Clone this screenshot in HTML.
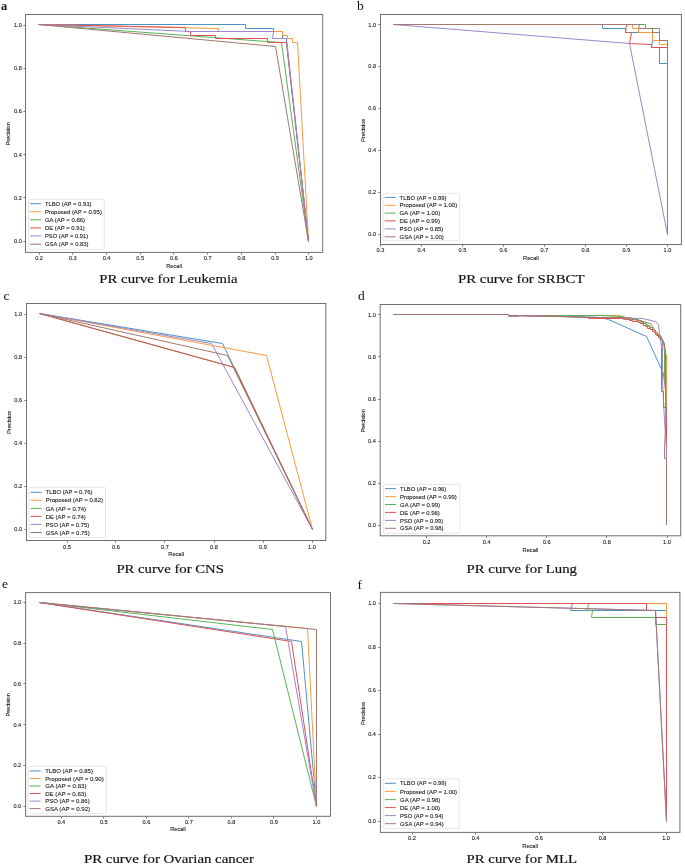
<!DOCTYPE html>
<html><head><meta charset="utf-8"><title>PR curves</title>
<style>
html,body{margin:0;padding:0;background:#fff;}
body{width:685px;height:864px;overflow:hidden;font-family:"Liberation Sans",sans-serif;}
svg{display:block;will-change:transform;filter:blur(0.3px);}
</style></head><body>
<svg width="685" height="864" viewBox="0 0 685 864">
<g>
<clipPath id="cpa"><rect x="25.5" y="14.5" width="297.2" height="237.9"/></clipPath>
<g clip-path="url(#cpa)" fill="none" stroke-width="1.00" stroke-linejoin="miter" stroke-linecap="butt">
<polyline stroke="#4c92c3" points="38.50,24.50 245.50,24.50 245.50,28.50 273.50,28.50 273.50,31.50 282.50,31.50 282.50,38.50 286.50,38.50 286.50,42.50 308.50,241.50"/>
<polyline stroke="#ff993e" points="38.50,24.50 218.50,28.50 218.50,31.50 282.50,31.50 282.50,35.50 287.50,35.50 287.50,38.50 292.50,38.50 292.50,42.50 297.50,42.50 308.50,241.50"/>
<polyline stroke="#56b356" points="38.50,24.50 266.50,41.50 281.50,42.50 308.50,241.50"/>
<polyline stroke="#de5253" points="38.50,24.50 185.50,27.50 185.50,31.50 190.50,31.50 190.50,35.50 215.50,35.50 215.50,38.50 267.50,38.50 267.50,42.50 286.50,42.50 308.50,241.50"/>
<polyline stroke="#9d86cc" points="38.50,24.50 190.50,31.50 273.50,31.50 272.50,38.50 286.50,38.50 308.50,241.50"/>
<polyline stroke="#a3786f" points="38.50,24.50 275.50,46.50 308.50,241.50"/>
</g>
<rect x="25.5" y="14.5" width="297.2" height="237.9" fill="none" stroke="#707070" stroke-width="1"/>
<path d="M39.50 252.40v2.2M72.50 252.40v2.2M106.50 252.40v2.2M140.50 252.40v2.2M173.50 252.40v2.2M207.50 252.40v2.2M241.50 252.40v2.2M275.50 252.40v2.2M308.50 252.40v2.2M25.50 241.50h-2.2M25.50 197.50h-2.2M25.50 154.50h-2.2M25.50 111.50h-2.2M25.50 68.50h-2.2M25.50 25.50h-2.2" stroke="#707070" stroke-width="0.9" fill="none"/>
<g font-family="Liberation Sans, sans-serif" font-size="6.20" fill="#181818" stroke="#181818" stroke-width="0.1">
<text x="39.10" y="259.60" text-anchor="middle" textLength="7.79" lengthAdjust="spacingAndGlyphs">0.2</text>
<text x="72.81" y="259.60" text-anchor="middle" textLength="7.79" lengthAdjust="spacingAndGlyphs">0.3</text>
<text x="106.53" y="259.60" text-anchor="middle" textLength="7.79" lengthAdjust="spacingAndGlyphs">0.4</text>
<text x="140.24" y="259.60" text-anchor="middle" textLength="7.79" lengthAdjust="spacingAndGlyphs">0.5</text>
<text x="173.95" y="259.60" text-anchor="middle" textLength="7.79" lengthAdjust="spacingAndGlyphs">0.6</text>
<text x="207.66" y="259.60" text-anchor="middle" textLength="7.79" lengthAdjust="spacingAndGlyphs">0.7</text>
<text x="241.38" y="259.60" text-anchor="middle" textLength="7.79" lengthAdjust="spacingAndGlyphs">0.8</text>
<text x="275.09" y="259.60" text-anchor="middle" textLength="7.79" lengthAdjust="spacingAndGlyphs">0.9</text>
<text x="308.80" y="259.60" text-anchor="middle" textLength="7.79" lengthAdjust="spacingAndGlyphs">1.0</text>
<text x="14.01" y="243.00" textLength="7.79" lengthAdjust="spacingAndGlyphs">0.0</text>
<text x="14.01" y="199.78" textLength="7.79" lengthAdjust="spacingAndGlyphs">0.2</text>
<text x="14.01" y="156.56" textLength="7.79" lengthAdjust="spacingAndGlyphs">0.4</text>
<text x="14.01" y="113.34" textLength="7.79" lengthAdjust="spacingAndGlyphs">0.6</text>
<text x="14.01" y="70.12" textLength="7.79" lengthAdjust="spacingAndGlyphs">0.8</text>
<text x="14.01" y="26.90" textLength="7.79" lengthAdjust="spacingAndGlyphs">1.0</text>
<text x="166.27" y="267.80" textLength="15.66" lengthAdjust="spacingAndGlyphs">Recall</text>
<text transform="translate(10.40 133.80) rotate(-90)" x="-11.71" y="0" textLength="23.42" lengthAdjust="spacingAndGlyphs">Precision</text>
</g>
<rect x="28.50" y="199.30" width="75.70" height="50.00" rx="1.2" fill="#fff" fill-opacity="0.85" stroke="#d5d5d5" stroke-width="0.6"/>
<g font-family="Liberation Sans, sans-serif" font-size="6.20" fill="#181818" stroke="#181818" stroke-width="0.1">
<line x1="30.10" y1="203.70" x2="41.10" y2="203.70" stroke="#4c92c3" stroke-width="1.00"/>
<text x="44.90" y="205.80" textLength="46.44" lengthAdjust="spacingAndGlyphs">TLBO (AP = 0.93)</text>
<line x1="30.10" y1="211.70" x2="41.10" y2="211.70" stroke="#ff993e" stroke-width="1.00"/>
<text x="44.90" y="213.80" textLength="57.00" lengthAdjust="spacingAndGlyphs">Proposed (AP = 0.95)</text>
<line x1="30.10" y1="219.80" x2="41.10" y2="219.80" stroke="#56b356" stroke-width="1.00"/>
<text x="44.90" y="221.90" textLength="40.23" lengthAdjust="spacingAndGlyphs">GA (AP = 0.86)</text>
<line x1="30.10" y1="227.90" x2="41.10" y2="227.90" stroke="#de5253" stroke-width="1.00"/>
<text x="44.90" y="230.00" textLength="39.92" lengthAdjust="spacingAndGlyphs">DE (AP = 0.91)</text>
<line x1="30.10" y1="235.90" x2="41.10" y2="235.90" stroke="#9d86cc" stroke-width="1.00"/>
<text x="44.90" y="238.00" textLength="43.25" lengthAdjust="spacingAndGlyphs">PSO (AP = 0.91)</text>
<line x1="30.10" y1="244.20" x2="41.10" y2="244.20" stroke="#a3786f" stroke-width="1.00"/>
<text x="44.90" y="246.30" textLength="43.71" lengthAdjust="spacingAndGlyphs">GSA (AP = 0.83)</text>
</g>
<text x="99.30" y="282.80" font-family="Liberation Serif, serif" font-size="13.3" fill="#111" stroke="#111" stroke-width="0.18" textLength="138.30" lengthAdjust="spacingAndGlyphs">PR curve for Leukemia</text>
<text x="0.90" y="9.90" font-family="Liberation Serif, serif" font-size="12.5" fill="#111" font-weight="bold">a</text>
</g>
<g>
<clipPath id="cpb"><rect x="380.5" y="14.5" width="300.9" height="230.0"/></clipPath>
<g clip-path="url(#cpb)" fill="none" stroke-width="1.00" stroke-linejoin="miter" stroke-linecap="butt">
<polyline stroke="#4c92c3" points="393.50,24.50 602.50,24.50 602.50,28.50 625.50,28.50 625.50,32.50 652.50,32.50 652.50,40.50 651.50,47.50 659.50,47.50 659.50,63.50 667.50,63.50 667.50,234.50"/>
<polyline stroke="#ff993e" points="393.50,24.50 632.50,24.50 632.50,28.50 638.50,28.50 638.50,32.50 652.50,32.50 652.50,40.50 659.50,40.50 659.50,44.50 667.50,44.50 667.50,234.50"/>
<polyline stroke="#56b356" points="393.50,24.50 645.50,24.50 645.50,28.50 659.50,28.50 659.50,32.50 659.50,40.50 667.50,40.50 667.50,234.50"/>
<polyline stroke="#de5253" points="393.50,24.50 626.50,24.50 625.50,32.50 631.50,32.50 629.50,43.50 651.50,44.50 651.50,47.50 667.50,47.50 667.50,234.50"/>
<polyline stroke="#9d86cc" points="393.50,24.50 629.50,43.50 667.50,234.50"/>
<polyline stroke="#a3786f" points="393.50,24.50 639.50,24.50 638.50,28.50 652.50,28.50 652.50,32.50 659.50,32.50 659.50,40.50 667.50,40.50 667.50,234.50"/>
</g>
<rect x="380.5" y="14.5" width="300.9" height="230.0" fill="none" stroke="#707070" stroke-width="1"/>
<path d="M380.50 244.50v2.2M421.50 244.50v2.2M462.50 244.50v2.2M503.50 244.50v2.2M544.50 244.50v2.2M585.50 244.50v2.2M626.50 244.50v2.2M667.50 244.50v2.2M380.50 234.50h-2.2M380.50 192.50h-2.2M380.50 150.50h-2.2M380.50 108.50h-2.2M380.50 66.50h-2.2M380.50 24.50h-2.2" stroke="#707070" stroke-width="0.9" fill="none"/>
<g font-family="Liberation Sans, sans-serif" font-size="6.20" fill="#181818" stroke="#181818" stroke-width="0.1">
<text x="380.50" y="251.70" text-anchor="middle" textLength="7.79" lengthAdjust="spacingAndGlyphs">0.3</text>
<text x="421.50" y="251.70" text-anchor="middle" textLength="7.79" lengthAdjust="spacingAndGlyphs">0.4</text>
<text x="462.50" y="251.70" text-anchor="middle" textLength="7.79" lengthAdjust="spacingAndGlyphs">0.5</text>
<text x="503.50" y="251.70" text-anchor="middle" textLength="7.79" lengthAdjust="spacingAndGlyphs">0.6</text>
<text x="544.50" y="251.70" text-anchor="middle" textLength="7.79" lengthAdjust="spacingAndGlyphs">0.7</text>
<text x="585.50" y="251.70" text-anchor="middle" textLength="7.79" lengthAdjust="spacingAndGlyphs">0.8</text>
<text x="626.50" y="251.70" text-anchor="middle" textLength="7.79" lengthAdjust="spacingAndGlyphs">0.9</text>
<text x="667.50" y="251.70" text-anchor="middle" textLength="7.79" lengthAdjust="spacingAndGlyphs">1.0</text>
<text x="368.31" y="235.90" textLength="7.79" lengthAdjust="spacingAndGlyphs">0.0</text>
<text x="368.31" y="194.02" textLength="7.79" lengthAdjust="spacingAndGlyphs">0.2</text>
<text x="368.31" y="152.14" textLength="7.79" lengthAdjust="spacingAndGlyphs">0.4</text>
<text x="368.31" y="110.26" textLength="7.79" lengthAdjust="spacingAndGlyphs">0.6</text>
<text x="368.31" y="68.38" textLength="7.79" lengthAdjust="spacingAndGlyphs">0.8</text>
<text x="368.31" y="26.50" textLength="7.79" lengthAdjust="spacingAndGlyphs">1.0</text>
<text x="523.12" y="259.70" textLength="15.66" lengthAdjust="spacingAndGlyphs">Recall</text>
<text transform="translate(364.80 130.20) rotate(-90)" x="-11.71" y="0" textLength="23.42" lengthAdjust="spacingAndGlyphs">Precision</text>
</g>
<rect x="383.00" y="193.60" width="76.60" height="47.20" rx="1.2" fill="#fff" fill-opacity="0.85" stroke="#d5d5d5" stroke-width="0.6"/>
<g font-family="Liberation Sans, sans-serif" font-size="6.20" fill="#181818" stroke="#181818" stroke-width="0.1">
<line x1="384.60" y1="197.40" x2="395.60" y2="197.40" stroke="#4c92c3" stroke-width="1.00"/>
<text x="399.60" y="199.50" textLength="46.93" lengthAdjust="spacingAndGlyphs">TLBO (AP = 0.99)</text>
<line x1="384.60" y1="205.30" x2="395.60" y2="205.30" stroke="#ff993e" stroke-width="1.00"/>
<text x="399.60" y="207.40" textLength="57.60" lengthAdjust="spacingAndGlyphs">Proposed (AP = 1.00)</text>
<line x1="384.60" y1="213.10" x2="395.60" y2="213.10" stroke="#56b356" stroke-width="1.00"/>
<text x="399.60" y="215.20" textLength="40.65" lengthAdjust="spacingAndGlyphs">GA (AP = 1.00)</text>
<line x1="384.60" y1="220.90" x2="395.60" y2="220.90" stroke="#de5253" stroke-width="1.00"/>
<text x="399.60" y="223.00" textLength="40.34" lengthAdjust="spacingAndGlyphs">DE (AP = 0.99)</text>
<line x1="384.60" y1="228.90" x2="395.60" y2="228.90" stroke="#9d86cc" stroke-width="1.00"/>
<text x="399.60" y="231.00" textLength="43.70" lengthAdjust="spacingAndGlyphs">PSO (AP = 0.85)</text>
<line x1="384.60" y1="236.80" x2="395.60" y2="236.80" stroke="#a3786f" stroke-width="1.00"/>
<text x="399.60" y="238.90" textLength="44.17" lengthAdjust="spacingAndGlyphs">GSA (AP = 1.00)</text>
</g>
<text x="458.00" y="282.90" font-family="Liberation Serif, serif" font-size="13.3" fill="#111" stroke="#111" stroke-width="0.18" textLength="126.50" lengthAdjust="spacingAndGlyphs">PR curve for SRBCT</text>
<text x="357.00" y="9.90" font-family="Liberation Serif, serif" font-size="13.5" fill="#111">b</text>
</g>
<g>
<clipPath id="cpc"><rect x="26.5" y="303.5" width="299.3" height="237.0"/></clipPath>
<g clip-path="url(#cpc)" fill="none" stroke-width="1.00" stroke-linejoin="miter" stroke-linecap="butt">
<polyline stroke="#4c92c3" points="39.50,313.50 222.50,343.50 312.50,529.50"/>
<polyline stroke="#ff993e" points="39.50,313.50 266.50,355.50 312.50,529.50"/>
<polyline stroke="#56b356" points="39.50,313.50 234.50,367.50 312.50,529.50"/>
<polyline stroke="#de5253" points="39.50,313.50 234.50,367.50 312.50,529.50"/>
<polyline stroke="#9d86cc" points="39.50,313.50 211.50,343.50 312.50,529.50"/>
<polyline stroke="#a3786f" points="39.50,313.50 227.50,355.50 312.50,529.50"/>
</g>
<rect x="26.5" y="303.5" width="299.3" height="237.0" fill="none" stroke="#707070" stroke-width="1"/>
<path d="M67.50 540.50v2.2M115.50 540.50v2.2M164.50 540.50v2.2M214.50 540.50v2.2M263.50 540.50v2.2M312.50 540.50v2.2M26.50 529.50h-2.2M26.50 486.50h-2.2M26.50 443.50h-2.2M26.50 400.50h-2.2M26.50 357.50h-2.2M26.50 314.50h-2.2" stroke="#707070" stroke-width="0.9" fill="none"/>
<g font-family="Liberation Sans, sans-serif" font-size="6.20" fill="#181818" stroke="#181818" stroke-width="0.1">
<text x="67.00" y="548.80" text-anchor="middle" textLength="7.79" lengthAdjust="spacingAndGlyphs">0.5</text>
<text x="116.00" y="548.80" text-anchor="middle" textLength="7.79" lengthAdjust="spacingAndGlyphs">0.6</text>
<text x="165.00" y="548.80" text-anchor="middle" textLength="7.79" lengthAdjust="spacingAndGlyphs">0.7</text>
<text x="214.00" y="548.80" text-anchor="middle" textLength="7.79" lengthAdjust="spacingAndGlyphs">0.8</text>
<text x="263.00" y="548.80" text-anchor="middle" textLength="7.79" lengthAdjust="spacingAndGlyphs">0.9</text>
<text x="312.00" y="548.80" text-anchor="middle" textLength="7.79" lengthAdjust="spacingAndGlyphs">1.0</text>
<text x="14.31" y="531.40" textLength="7.79" lengthAdjust="spacingAndGlyphs">0.0</text>
<text x="14.31" y="488.34" textLength="7.79" lengthAdjust="spacingAndGlyphs">0.2</text>
<text x="14.31" y="445.28" textLength="7.79" lengthAdjust="spacingAndGlyphs">0.4</text>
<text x="14.31" y="402.22" textLength="7.79" lengthAdjust="spacingAndGlyphs">0.6</text>
<text x="14.31" y="359.16" textLength="7.79" lengthAdjust="spacingAndGlyphs">0.8</text>
<text x="14.31" y="316.10" textLength="7.79" lengthAdjust="spacingAndGlyphs">1.0</text>
<text x="168.32" y="556.40" textLength="15.66" lengthAdjust="spacingAndGlyphs">Recall</text>
<text transform="translate(10.80 422.30) rotate(-90)" x="-11.71" y="0" textLength="23.42" lengthAdjust="spacingAndGlyphs">Precision</text>
</g>
<rect x="29.00" y="487.40" width="76.50" height="50.10" rx="1.2" fill="#fff" fill-opacity="0.85" stroke="#d5d5d5" stroke-width="0.6"/>
<g font-family="Liberation Sans, sans-serif" font-size="6.20" fill="#181818" stroke="#181818" stroke-width="0.1">
<line x1="30.60" y1="492.30" x2="41.60" y2="492.30" stroke="#4c92c3" stroke-width="1.00"/>
<text x="45.70" y="494.40" textLength="46.68" lengthAdjust="spacingAndGlyphs">TLBO (AP = 0.76)</text>
<line x1="30.60" y1="500.30" x2="41.60" y2="500.30" stroke="#ff993e" stroke-width="1.00"/>
<text x="45.70" y="502.40" textLength="57.30" lengthAdjust="spacingAndGlyphs">Proposed (AP = 0.82)</text>
<line x1="30.60" y1="508.40" x2="41.60" y2="508.40" stroke="#56b356" stroke-width="1.00"/>
<text x="45.70" y="510.50" textLength="40.44" lengthAdjust="spacingAndGlyphs">GA (AP = 0.74)</text>
<line x1="30.60" y1="516.40" x2="41.60" y2="516.40" stroke="#de5253" stroke-width="1.00"/>
<text x="45.70" y="518.50" textLength="40.13" lengthAdjust="spacingAndGlyphs">DE (AP = 0.74)</text>
<line x1="30.60" y1="524.40" x2="41.60" y2="524.40" stroke="#9d86cc" stroke-width="1.00"/>
<text x="45.70" y="526.50" textLength="43.47" lengthAdjust="spacingAndGlyphs">PSO (AP = 0.75)</text>
<line x1="30.60" y1="532.50" x2="41.60" y2="532.50" stroke="#a3786f" stroke-width="1.00"/>
<text x="45.70" y="534.60" textLength="43.94" lengthAdjust="spacingAndGlyphs">GSA (AP = 0.75)</text>
</g>
<text x="116.40" y="573.30" font-family="Liberation Serif, serif" font-size="13.3" fill="#111" stroke="#111" stroke-width="0.18" textLength="107.50" lengthAdjust="spacingAndGlyphs">PR curve for CNS</text>
<text x="3.60" y="299.60" font-family="Liberation Serif, serif" font-size="13.5" fill="#111">c</text>
</g>
<g>
<clipPath id="cpd"><rect x="380.2" y="304.5" width="300.5" height="231.3"/></clipPath>
<g clip-path="url(#cpd)" fill="none" stroke-width="1.00" stroke-linejoin="miter" stroke-linecap="butt">
<polyline stroke="#4c92c3" points="393.50,314.50 508.50,314.50 508.50,315.50 565.50,316.50 600.50,317.50 608.50,319.50 646.50,336.50 663.50,373.50 665.50,390.50 666.50,430.50 666.50,524.50"/>
<polyline stroke="#ff993e" points="393.50,314.50 508.50,314.50 508.50,315.50 565.50,315.50 585.50,315.50 617.50,315.50 620.50,315.50 620.50,316.50 624.50,316.50 624.50,317.50 627.50,317.50 627.50,317.50 631.50,317.50 631.50,318.50 634.50,318.50 634.50,319.50 638.50,319.50 638.50,320.50 640.50,320.50 640.50,321.50 643.50,321.50 643.50,323.50 645.50,323.50 645.50,324.50 647.50,324.50 647.50,326.50 650.50,326.50 650.50,327.50 652.50,327.50 652.50,329.50 654.50,329.50 654.50,330.50 655.50,330.50 655.50,332.50 656.50,332.50 656.50,333.50 658.50,333.50 658.50,335.50 659.50,335.50 659.50,337.50 661.50,337.50 661.50,338.50 663.50,340.50 664.50,353.50 666.50,354.50 666.50,402.50 666.50,410.50 666.50,524.50"/>
<polyline stroke="#56b356" points="393.50,314.50 508.50,314.50 508.50,315.50 569.50,315.50 600.50,315.50 620.50,316.50 623.50,316.50 623.50,317.50 627.50,317.50 627.50,318.50 630.50,318.50 630.50,319.50 634.50,319.50 634.50,319.50 638.50,319.50 638.50,320.50 641.50,320.50 641.50,322.50 643.50,322.50 643.50,323.50 646.50,323.50 646.50,325.50 649.50,325.50 649.50,327.50 652.50,327.50 652.50,329.50 654.50,329.50 654.50,330.50 655.50,330.50 655.50,332.50 657.50,332.50 657.50,334.50 659.50,334.50 659.50,336.50 661.50,336.50 661.50,337.50 664.50,343.50 664.50,374.50 665.50,385.50 666.50,430.50 666.50,524.50"/>
<polyline stroke="#de5253" points="393.50,314.50 508.50,314.50 508.50,315.50 565.50,316.50 588.50,317.50 588.50,318.50 620.50,318.50 623.50,318.50 623.50,319.50 626.50,319.50 626.50,319.50 629.50,319.50 629.50,320.50 632.50,320.50 632.50,321.50 635.50,321.50 635.50,321.50 638.50,321.50 638.50,322.50 640.50,322.50 640.50,323.50 643.50,323.50 643.50,325.50 645.50,325.50 645.50,326.50 647.50,326.50 647.50,328.50 650.50,328.50 650.50,329.50 652.50,329.50 652.50,331.50 654.50,331.50 654.50,332.50 655.50,332.50 655.50,334.50 656.50,334.50 656.50,335.50 658.50,335.50 658.50,337.50 659.50,337.50 659.50,338.50 661.50,338.50 661.50,340.50 663.50,342.50 665.50,350.50 665.50,360.50 665.50,402.50 666.50,410.50 666.50,445.50 666.50,460.50 666.50,524.50"/>
<polyline stroke="#9d86cc" points="393.50,314.50 508.50,314.50 508.50,316.50 518.50,316.50 518.50,315.50 600.50,317.50 620.50,317.50 638.50,318.50 642.50,318.50 655.50,321.50 658.50,324.50 659.50,333.50 662.50,340.50 662.50,380.50 664.50,420.50 666.50,448.50 666.50,458.50 666.50,524.50"/>
<polyline stroke="#a3786f" points="393.50,314.50 508.50,314.50 508.50,315.50 600.50,317.50 620.50,317.50 638.50,320.50 650.50,323.50 652.50,326.50 656.50,332.50 660.50,338.50 661.50,347.50 661.50,391.50 663.50,391.50 663.50,407.50 666.50,407.50 665.50,429.50 664.50,448.50 664.50,458.50 666.50,458.50 666.50,524.50"/>
</g>
<rect x="380.2" y="304.5" width="300.5" height="231.3" fill="none" stroke="#707070" stroke-width="1"/>
<path d="M426.50 535.80v2.2M486.50 535.80v2.2M546.50 535.80v2.2M606.50 535.80v2.2M667.50 535.80v2.2M380.20 525.50h-2.2M380.20 483.50h-2.2M380.20 441.50h-2.2M380.20 399.50h-2.2M380.20 356.50h-2.2M380.20 314.50h-2.2" stroke="#707070" stroke-width="0.9" fill="none"/>
<g font-family="Liberation Sans, sans-serif" font-size="6.20" fill="#181818" stroke="#181818" stroke-width="0.1">
<text x="426.60" y="543.70" text-anchor="middle" textLength="7.79" lengthAdjust="spacingAndGlyphs">0.2</text>
<text x="486.70" y="543.70" text-anchor="middle" textLength="7.79" lengthAdjust="spacingAndGlyphs">0.4</text>
<text x="546.80" y="543.70" text-anchor="middle" textLength="7.79" lengthAdjust="spacingAndGlyphs">0.6</text>
<text x="606.90" y="543.70" text-anchor="middle" textLength="7.79" lengthAdjust="spacingAndGlyphs">0.8</text>
<text x="667.00" y="543.70" text-anchor="middle" textLength="7.79" lengthAdjust="spacingAndGlyphs">1.0</text>
<text x="368.01" y="527.10" textLength="7.79" lengthAdjust="spacingAndGlyphs">0.0</text>
<text x="368.01" y="485.00" textLength="7.79" lengthAdjust="spacingAndGlyphs">0.2</text>
<text x="368.01" y="442.90" textLength="7.79" lengthAdjust="spacingAndGlyphs">0.4</text>
<text x="368.01" y="400.80" textLength="7.79" lengthAdjust="spacingAndGlyphs">0.6</text>
<text x="368.01" y="358.70" textLength="7.79" lengthAdjust="spacingAndGlyphs">0.8</text>
<text x="368.01" y="316.60" textLength="7.79" lengthAdjust="spacingAndGlyphs">1.0</text>
<text x="522.62" y="551.70" textLength="15.66" lengthAdjust="spacingAndGlyphs">Recall</text>
<text transform="translate(364.60 420.90) rotate(-90)" x="-11.71" y="0" textLength="23.42" lengthAdjust="spacingAndGlyphs">Precision</text>
</g>
<rect x="383.40" y="484.40" width="76.50" height="48.90" rx="1.2" fill="#fff" fill-opacity="0.85" stroke="#d5d5d5" stroke-width="0.6"/>
<g font-family="Liberation Sans, sans-serif" font-size="6.20" fill="#181818" stroke="#181818" stroke-width="0.1">
<line x1="385.00" y1="488.60" x2="396.00" y2="488.60" stroke="#4c92c3" stroke-width="1.00"/>
<text x="400.10" y="490.70" textLength="46.20" lengthAdjust="spacingAndGlyphs">TLBO (AP = 0.96)</text>
<line x1="385.00" y1="496.60" x2="396.00" y2="496.60" stroke="#ff993e" stroke-width="1.00"/>
<text x="400.10" y="498.70" textLength="56.70" lengthAdjust="spacingAndGlyphs">Proposed (AP = 0.99)</text>
<line x1="385.00" y1="504.50" x2="396.00" y2="504.50" stroke="#56b356" stroke-width="1.00"/>
<text x="400.10" y="506.60" textLength="40.02" lengthAdjust="spacingAndGlyphs">GA (AP = 0.99)</text>
<line x1="385.00" y1="512.40" x2="396.00" y2="512.40" stroke="#de5253" stroke-width="1.00"/>
<text x="400.10" y="514.50" textLength="39.71" lengthAdjust="spacingAndGlyphs">DE (AP = 0.98)</text>
<line x1="385.00" y1="520.40" x2="396.00" y2="520.40" stroke="#9d86cc" stroke-width="1.00"/>
<text x="400.10" y="522.50" textLength="43.02" lengthAdjust="spacingAndGlyphs">PSO (AP = 0.99)</text>
<line x1="385.00" y1="528.30" x2="396.00" y2="528.30" stroke="#a3786f" stroke-width="1.00"/>
<text x="400.10" y="530.40" textLength="43.48" lengthAdjust="spacingAndGlyphs">GSA (AP = 0.98)</text>
</g>
<text x="466.60" y="573.30" font-family="Liberation Serif, serif" font-size="13.3" fill="#111" stroke="#111" stroke-width="0.18" textLength="110.40" lengthAdjust="spacingAndGlyphs">PR curve for Lung</text>
<text x="357.90" y="299.60" font-family="Liberation Serif, serif" font-size="13.5" fill="#111">d</text>
</g>
<g>
<clipPath id="cpe"><rect x="25.6" y="592.6" width="304.9" height="223.7"/></clipPath>
<g clip-path="url(#cpe)" fill="none" stroke-width="1.00" stroke-linejoin="miter" stroke-linecap="butt">
<polyline stroke="#4c92c3" points="39.50,602.50 301.50,641.50 316.50,806.50"/>
<polyline stroke="#ff993e" points="39.50,602.50 307.50,628.50 316.50,806.50"/>
<polyline stroke="#56b356" points="39.50,602.50 272.50,629.50 316.50,806.50"/>
<polyline stroke="#de5253" points="39.50,602.50 291.50,641.50 316.50,806.50"/>
<polyline stroke="#9d86cc" points="39.50,602.50 285.50,626.50 316.50,806.50"/>
<polyline stroke="#a3786f" points="39.50,602.50 316.50,629.50 316.50,806.50"/>
</g>
<rect x="25.6" y="592.6" width="304.9" height="223.7" fill="none" stroke="#707070" stroke-width="1"/>
<path d="M61.50 816.30v2.2M103.50 816.30v2.2M146.50 816.30v2.2M188.50 816.30v2.2M231.50 816.30v2.2M273.50 816.30v2.2M316.50 816.30v2.2M25.60 806.50h-2.2M25.60 765.50h-2.2M25.60 724.50h-2.2M25.60 683.50h-2.2M25.60 643.50h-2.2M25.60 602.50h-2.2" stroke="#707070" stroke-width="0.9" fill="none"/>
<g font-family="Liberation Sans, sans-serif" font-size="6.20" fill="#181818" stroke="#181818" stroke-width="0.1">
<text x="61.30" y="823.50" text-anchor="middle" textLength="7.79" lengthAdjust="spacingAndGlyphs">0.4</text>
<text x="103.83" y="823.50" text-anchor="middle" textLength="7.79" lengthAdjust="spacingAndGlyphs">0.5</text>
<text x="146.37" y="823.50" text-anchor="middle" textLength="7.79" lengthAdjust="spacingAndGlyphs">0.6</text>
<text x="188.90" y="823.50" text-anchor="middle" textLength="7.79" lengthAdjust="spacingAndGlyphs">0.7</text>
<text x="231.43" y="823.50" text-anchor="middle" textLength="7.79" lengthAdjust="spacingAndGlyphs">0.8</text>
<text x="273.97" y="823.50" text-anchor="middle" textLength="7.79" lengthAdjust="spacingAndGlyphs">0.9</text>
<text x="316.50" y="823.50" text-anchor="middle" textLength="7.79" lengthAdjust="spacingAndGlyphs">1.0</text>
<text x="13.41" y="808.00" textLength="7.79" lengthAdjust="spacingAndGlyphs">0.0</text>
<text x="13.41" y="767.26" textLength="7.79" lengthAdjust="spacingAndGlyphs">0.2</text>
<text x="13.41" y="726.52" textLength="7.79" lengthAdjust="spacingAndGlyphs">0.4</text>
<text x="13.41" y="685.78" textLength="7.79" lengthAdjust="spacingAndGlyphs">0.6</text>
<text x="13.41" y="645.04" textLength="7.79" lengthAdjust="spacingAndGlyphs">0.8</text>
<text x="13.41" y="604.30" textLength="7.79" lengthAdjust="spacingAndGlyphs">1.0</text>
<text x="170.22" y="830.90" textLength="15.66" lengthAdjust="spacingAndGlyphs">Recall</text>
<text transform="translate(9.85 704.90) rotate(-90)" x="-11.71" y="0" textLength="23.42" lengthAdjust="spacingAndGlyphs">Precision</text>
</g>
<rect x="28.00" y="766.40" width="78.20" height="47.20" rx="1.2" fill="#fff" fill-opacity="0.85" stroke="#d5d5d5" stroke-width="0.6"/>
<g font-family="Liberation Sans, sans-serif" font-size="6.20" fill="#181818" stroke="#181818" stroke-width="0.1">
<line x1="29.60" y1="770.90" x2="40.60" y2="770.90" stroke="#4c92c3" stroke-width="1.00"/>
<text x="45.20" y="773.00" textLength="47.74" lengthAdjust="spacingAndGlyphs">TLBO (AP = 0.85)</text>
<line x1="29.60" y1="778.40" x2="40.60" y2="778.40" stroke="#ff993e" stroke-width="1.00"/>
<text x="45.20" y="780.50" textLength="58.60" lengthAdjust="spacingAndGlyphs">Proposed (AP = 0.90)</text>
<line x1="29.60" y1="786.00" x2="40.60" y2="786.00" stroke="#56b356" stroke-width="1.00"/>
<text x="45.20" y="788.10" textLength="41.36" lengthAdjust="spacingAndGlyphs">GA (AP = 0.83)</text>
<line x1="29.60" y1="793.50" x2="40.60" y2="793.50" stroke="#de5253" stroke-width="1.00"/>
<text x="45.20" y="795.60" textLength="41.04" lengthAdjust="spacingAndGlyphs">DE (AP = 0.83)</text>
<line x1="29.60" y1="801.10" x2="40.60" y2="801.10" stroke="#9d86cc" stroke-width="1.00"/>
<text x="45.20" y="803.20" textLength="44.46" lengthAdjust="spacingAndGlyphs">PSO (AP = 0.86)</text>
<line x1="29.60" y1="808.60" x2="40.60" y2="808.60" stroke="#a3786f" stroke-width="1.00"/>
<text x="45.20" y="810.70" textLength="44.94" lengthAdjust="spacingAndGlyphs">GSA (AP = 0.92)</text>
</g>
<text x="83.90" y="862.80" font-family="Liberation Serif, serif" font-size="13.3" fill="#111" stroke="#111" stroke-width="0.18" textLength="170.00" lengthAdjust="spacingAndGlyphs">PR curve for Ovarian cancer</text>
<text x="2.00" y="587.80" font-family="Liberation Serif, serif" font-size="13.5" fill="#111">e</text>
</g>
<g>
<clipPath id="cpf"><rect x="380.4" y="592.4" width="299.5" height="240.0"/></clipPath>
<g clip-path="url(#cpf)" fill="none" stroke-width="1.00" stroke-linejoin="miter" stroke-linecap="butt">
<polyline stroke="#4c92c3" points="393.50,603.50 572.50,603.50 570.50,610.50 666.50,610.50 666.50,821.50"/>
<polyline stroke="#ff993e" points="393.50,603.50 666.50,603.50 666.50,821.50"/>
<polyline stroke="#56b356" points="393.50,603.50 588.50,603.50 587.50,610.50 592.50,610.50 591.50,617.50 655.50,617.50 655.50,624.50 666.50,624.50 666.50,821.50"/>
<polyline stroke="#de5253" points="393.50,603.50 646.50,603.50 646.50,610.50 655.50,610.50 655.50,617.50 666.50,617.50 666.50,821.50"/>
<polyline stroke="#9d86cc" points="393.50,603.50 655.50,610.50 666.50,821.50"/>
<polyline stroke="#a3786f" points="393.50,603.50 655.50,610.50 666.50,821.50"/>
</g>
<rect x="380.4" y="592.4" width="299.5" height="240.0" fill="none" stroke="#707070" stroke-width="1"/>
<path d="M412.50 832.40v2.2M475.50 832.40v2.2M539.50 832.40v2.2M602.50 832.40v2.2M666.50 832.40v2.2M380.40 821.50h-2.2M380.40 777.50h-2.2M380.40 734.50h-2.2M380.40 690.50h-2.2M380.40 647.50h-2.2M380.40 603.50h-2.2" stroke="#707070" stroke-width="0.9" fill="none"/>
<g font-family="Liberation Sans, sans-serif" font-size="6.20" fill="#181818" stroke="#181818" stroke-width="0.1">
<text x="412.00" y="840.10" text-anchor="middle" textLength="7.79" lengthAdjust="spacingAndGlyphs">0.2</text>
<text x="475.52" y="840.10" text-anchor="middle" textLength="7.79" lengthAdjust="spacingAndGlyphs">0.4</text>
<text x="539.05" y="840.10" text-anchor="middle" textLength="7.79" lengthAdjust="spacingAndGlyphs">0.6</text>
<text x="602.58" y="840.10" text-anchor="middle" textLength="7.79" lengthAdjust="spacingAndGlyphs">0.8</text>
<text x="666.10" y="840.10" text-anchor="middle" textLength="7.79" lengthAdjust="spacingAndGlyphs">1.0</text>
<text x="368.21" y="822.80" textLength="7.79" lengthAdjust="spacingAndGlyphs">0.0</text>
<text x="368.21" y="779.30" textLength="7.79" lengthAdjust="spacingAndGlyphs">0.2</text>
<text x="368.21" y="735.80" textLength="7.79" lengthAdjust="spacingAndGlyphs">0.4</text>
<text x="368.21" y="692.30" textLength="7.79" lengthAdjust="spacingAndGlyphs">0.6</text>
<text x="368.21" y="648.80" textLength="7.79" lengthAdjust="spacingAndGlyphs">0.8</text>
<text x="368.21" y="605.30" textLength="7.79" lengthAdjust="spacingAndGlyphs">1.0</text>
<text x="522.32" y="848.00" textLength="15.66" lengthAdjust="spacingAndGlyphs">Recall</text>
<text transform="translate(364.70 713.40) rotate(-90)" x="-11.71" y="0" textLength="23.42" lengthAdjust="spacingAndGlyphs">Precision</text>
</g>
<rect x="383.20" y="778.80" width="75.90" height="49.60" rx="1.2" fill="#fff" fill-opacity="0.85" stroke="#d5d5d5" stroke-width="0.6"/>
<g font-family="Liberation Sans, sans-serif" font-size="6.20" fill="#181818" stroke="#181818" stroke-width="0.1">
<line x1="384.80" y1="783.30" x2="395.80" y2="783.30" stroke="#4c92c3" stroke-width="1.00"/>
<text x="400.00" y="785.40" textLength="46.52" lengthAdjust="spacingAndGlyphs">TLBO (AP = 0.99)</text>
<line x1="384.80" y1="791.40" x2="395.80" y2="791.40" stroke="#ff993e" stroke-width="1.00"/>
<text x="400.00" y="793.50" textLength="57.10" lengthAdjust="spacingAndGlyphs">Proposed (AP = 1.00)</text>
<line x1="384.80" y1="799.60" x2="395.80" y2="799.60" stroke="#56b356" stroke-width="1.00"/>
<text x="400.00" y="801.70" textLength="40.30" lengthAdjust="spacingAndGlyphs">GA (AP = 0.98)</text>
<line x1="384.80" y1="807.60" x2="395.80" y2="807.60" stroke="#de5253" stroke-width="1.00"/>
<text x="400.00" y="809.70" textLength="39.99" lengthAdjust="spacingAndGlyphs">DE (AP = 1.00)</text>
<line x1="384.80" y1="815.60" x2="395.80" y2="815.60" stroke="#9d86cc" stroke-width="1.00"/>
<text x="400.00" y="817.70" textLength="43.32" lengthAdjust="spacingAndGlyphs">PSO (AP = 0.94)</text>
<line x1="384.80" y1="823.70" x2="395.80" y2="823.70" stroke="#a3786f" stroke-width="1.00"/>
<text x="400.00" y="825.80" textLength="43.79" lengthAdjust="spacingAndGlyphs">GSA (AP = 0.94)</text>
</g>
<text x="466.60" y="863.20" font-family="Liberation Serif, serif" font-size="13.3" fill="#111" stroke="#111" stroke-width="0.18" textLength="110.40" lengthAdjust="spacingAndGlyphs">PR curve for MLL</text>
<text x="357.40" y="588.50" font-family="Liberation Serif, serif" font-size="13.5" fill="#111">f</text>
</g>
</svg>
</body></html>
